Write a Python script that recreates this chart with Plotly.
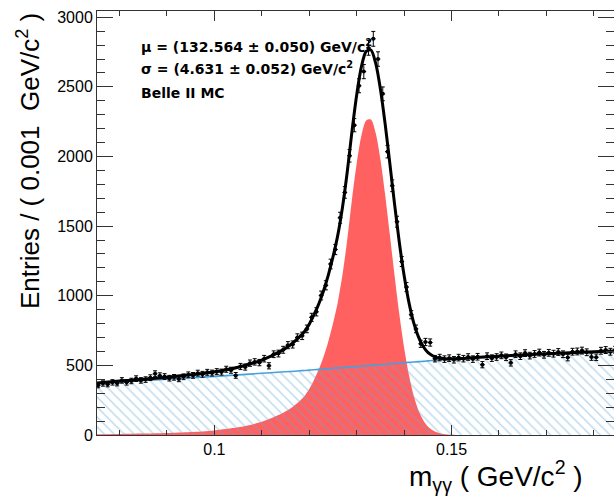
import plotly.graph_objects as go

# ---- data points (bin centres, 0.001 GeV/c^2 bins) ----
bin_lo = 0.075
bin_w = 0.001
entries = [
    358, 370, 365, 378, 372, 392, 378, 388, 405, 392,
    398, 412, 440, 426, 420, 408, 414, 403, 418, 432,
    428, 444, 436, 450, 445, 455, 452, 472, 465, 428,
    492, 488, 516, 525, 520, 548, 497, 580, 585, 612,
    645, 650, 700, 712, 762, 845, 885, 1002, 1075, 1228,
    1332, 1560, 1742, 2005, 2225, 2508, 2610, 2780, 2845, 2700,
    2450, 2035, 1790, 1532, 1246, 1062, 864, 762, 655, 668,
    664, 548, 556, 545, 552, 540, 556, 548, 560, 545,
    562, 505, 566, 552, 560, 572, 558, 518, 580, 566,
    588, 570, 582, 592, 576, 590, 584, 596, 580, 556,
    598, 600, 606, 594, 560, 558, 605, 610, 598, 612,
]
bin_centres = [round(bin_lo + bin_w * (i + 0.5), 4) for i in range(len(entries))]
stat_err = [v ** 0.5 for v in entries]

# ---- fit components ----
curve_x = [
    0.075, 0.080, 0.085, 0.090, 0.095, 0.100, 0.105, 0.110, 0.114, 0.116,
    0.118, 0.119, 0.120, 0.121, 0.122, 0.123, 0.124, 0.125, 0.126, 0.127,
    0.128, 0.129, 0.130, 0.131, 0.132, 0.133, 0.134, 0.135, 0.136, 0.137,
    0.138, 0.139, 0.140, 0.141, 0.142, 0.143, 0.144, 0.145, 0.146, 0.147,
    0.148, 0.149, 0.150, 0.152, 0.155, 0.160, 0.165, 0.170, 0.175, 0.180,
    0.185,
]
signal = [
    5, 7, 10, 14, 21, 33, 55, 95, 150, 190,
    245, 280, 330, 395, 470, 560, 670, 800, 950, 1150,
    1400, 1690, 1950, 2150, 2258, 2265, 2168, 1980, 1726, 1436,
    1141, 865, 626, 432, 285, 179, 108, 61, 34, 18,
    9, 4, 2, 0, 0, 0, 0, 0, 0, 0,
    0,
]
background = [
    368, 380, 391, 401, 411, 421, 432, 443, 452, 456,
    461, 463, 466, 469, 471, 474, 476, 479, 482, 484,
    487, 489, 492, 495, 497, 500, 502, 505, 508, 511,
    513, 516, 519, 522, 524, 527, 529, 532, 535, 537,
    540, 542, 545, 549, 556, 566, 575, 583, 591, 598,
    605,
]
total_fit = [s + b for s, b in zip(signal, background)]

x_range = [0.07525, 0.18425]
y_range = [0, 3045]

fig = go.Figure()

# signal (red filled)
fig.add_trace(go.Scatter(
    x=curve_x, y=signal, mode="lines",
    line=dict(color="rgba(255,96,96,1)", width=0, shape="spline", smoothing=0.8),
    fill="tozeroy", fillcolor="rgb(255,96,96)", hoverinfo="skip", showlegend=False,
))
# background (hatched + blue line)
fig.add_trace(go.Scatter(
    x=curve_x, y=background, mode="lines",
    line=dict(color="rgb(70,160,220)", width=1.6, shape="spline", smoothing=0.8),
    fill="tozeroy", fillcolor="rgba(0,0,0,0)",
    fillpattern=dict(shape="\\", fgcolor="rgba(100,170,215,0.85)",
                     bgcolor="rgba(0,0,0,0)", size=7, solidity=0.22),
    hoverinfo="skip", showlegend=False,
))
# total fit
fig.add_trace(go.Scatter(
    x=curve_x, y=total_fit, mode="lines",
    line=dict(color="black", width=3, shape="spline", smoothing=0.8),
    hoverinfo="skip", showlegend=False,
))
# data
fig.add_trace(go.Scatter(
    x=bin_centres, y=entries, mode="markers",
    marker=dict(color="black", size=4, symbol="circle"),
    error_y=dict(type="data", array=stat_err, color="black", thickness=1, width=2),
    error_x=dict(type="constant", value=bin_w / 2, color="black", thickness=1, width=0),
    showlegend=False,
))

axis_common = dict(
    showline=True, linecolor="#333333", linewidth=1, mirror="ticks",
    ticks="inside", tickcolor="#333333", tickwidth=1,
    showgrid=False, zeroline=False,
    tickfont=dict(family="Liberation Sans, Arial", size=16, color="black"),
)

fig.update_xaxes(
    range=x_range, tickmode="linear", tick0=0.1, dtick=0.05, ticklen=10,
    minor=dict(ticks="inside", tick0=0.08, dtick=0.01, ticklen=5, tickcolor="#333333"),
    **axis_common,
)
fig.update_yaxes(
    range=y_range, tickmode="linear", tick0=0, dtick=500, ticklen=16,
    minor=dict(ticks="inside", dtick=100, ticklen=8, tickcolor="#333333"),
    **axis_common,
)

W, H = 614, 498
L, R, T, B = 97, 0, 11, 63
pw, ph = W - L - R, H - T - B

def px(xp):
    return (xp - L) / pw

def py(yp):
    return (H - B - yp) / ph

ann_font = dict(family="DejaVu Sans", size=14, color="black")
fig.add_annotation(x=px(139), y=py(46), xref="paper", yref="paper", showarrow=False,
                   xanchor="left", yanchor="middle", font=ann_font,
                   text="<b>μ = (132.564 ± 0.050) GeV/c<sup>2</sup></b>")
fig.add_annotation(x=px(139), y=py(68), xref="paper", yref="paper", showarrow=False,
                   xanchor="left", yanchor="middle", font=ann_font,
                   text="<b>σ = (4.631 ± 0.052) GeV/c<sup>2</sup></b>")
fig.add_annotation(x=px(139), y=py(93), xref="paper", yref="paper", showarrow=False,
                   xanchor="left", yanchor="middle", font=ann_font,
                   text="<b>Belle II MC</b>")

# axis titles
fig.add_annotation(x=px(28), y=py(161), xref="paper", yref="paper", showarrow=False,
                   xanchor="center", yanchor="middle", textangle=-90,
                   font=dict(family="Liberation Sans, Arial", size=26, color="black"),
                   text="Entries / ( 0.001  GeV/c<sup>2</sup> )")
fig.add_annotation(x=px(585), y=py(476), xref="paper", yref="paper", showarrow=False,
                   xanchor="right", yanchor="middle",
                   font=dict(family="Liberation Sans, Arial", size=28, color="black"),
                   text="m<sub>γγ</sub> ( GeV/c<sup>2</sup> )")

fig.update_layout(
    width=W, height=H,
    margin=dict(l=L, r=R, t=T, b=B),
    paper_bgcolor="white", plot_bgcolor="white",
    showlegend=False,
)

fig.write_html(
    "out.html",
    config={"displayModeBar": False},
    post_script="document.body.style.margin='0px';document.body.style.overflow='hidden';",
)
